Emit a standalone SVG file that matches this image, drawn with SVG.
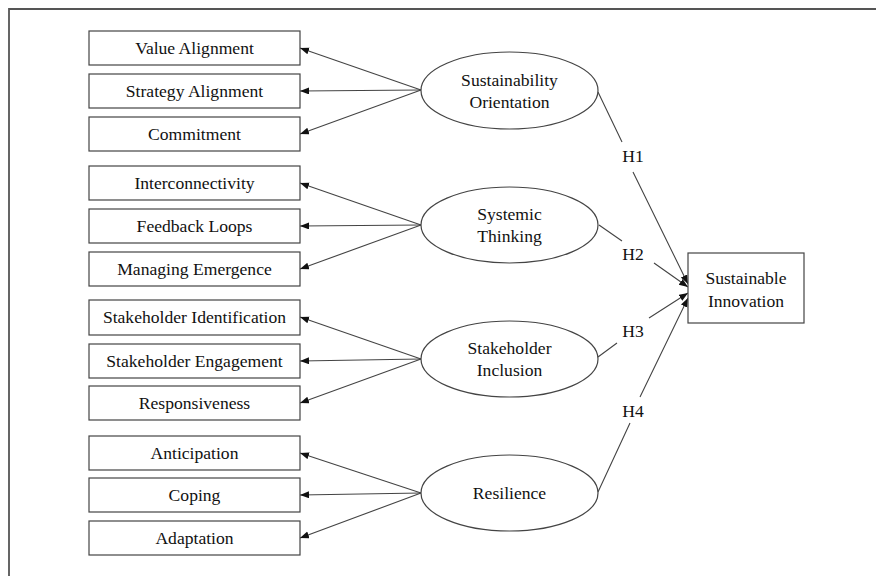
<svg xmlns="http://www.w3.org/2000/svg" width="876" height="576" viewBox="0 0 876 576">
<style>
text{font-family:"Liberation Serif","Times New Roman",serif;font-size:17.6px;fill:#111;text-anchor:middle;dominant-baseline:central}
.box{fill:#fff;stroke:#444;stroke-width:1.2}
.ell{fill:#fff;stroke:#444;stroke-width:1.2}
.con{fill:none;stroke:#444;stroke-width:1.1}
</style>
<defs>
<marker id="arr" markerWidth="10" markerHeight="8" refX="9" refY="3.5" orient="auto" markerUnits="userSpaceOnUse">
<path d="M0,0 L9,3.5 L0,7 Z" fill="#111"/>
</marker>
</defs>
<rect width="876" height="576" fill="#fff"/>
<path d="M9,590 V9 H890" fill="none" stroke="#555" stroke-width="1.8"/>

<g id="connectors">
<path class="con" marker-end="url(#arr)" d="M421,90 L300,48"/>
<path class="con" marker-end="url(#arr)" d="M421,90 L300,91"/>
<path class="con" marker-end="url(#arr)" d="M421,90 L300,134"/>
<path class="con" marker-end="url(#arr)" d="M421,225 L300,183"/>
<path class="con" marker-end="url(#arr)" d="M421,225 L300,226"/>
<path class="con" marker-end="url(#arr)" d="M421,225 L300,269"/>
<path class="con" marker-end="url(#arr)" d="M421,359 L300,317"/>
<path class="con" marker-end="url(#arr)" d="M421,359 L300,361"/>
<path class="con" marker-end="url(#arr)" d="M421,359 L300,403"/>
<path class="con" marker-end="url(#arr)" d="M421,493 L300,453"/>
<path class="con" marker-end="url(#arr)" d="M421,493 L300,495"/>
<path class="con" marker-end="url(#arr)" d="M421,493 L300,538"/>
<path class="con" marker-end="url(#arr)" d="M598,92 L622,142 M633,172 L688,284"/>
<path class="con" marker-end="url(#arr)" d="M599,225 L622,241 M654,263 L688,287"/>
<path class="con" marker-end="url(#arr)" d="M598,357 L617,343 M649,318 L688,293"/>
<path class="con" marker-end="url(#arr)" d="M598,492 L630,423 M640,397 L688,298"/>
<text x="633" y="156">H1</text>
<text x="633" y="254">H2</text>
<text x="633" y="331">H3</text>
<text x="633" y="411">H4</text>
</g>

<g id="value-alignment"><rect class="box" x="89" y="31" width="211" height="34"/><text x="194.5" y="48">Value Alignment</text></g>
<g id="strategy-alignment"><rect class="box" x="89" y="74" width="211" height="34"/><text x="194.5" y="91">Strategy Alignment</text></g>
<g id="commitment"><rect class="box" x="89" y="117" width="211" height="34"/><text x="194.5" y="134">Commitment</text></g>

<g id="interconnectivity"><rect class="box" x="89" y="166" width="211" height="34"/><text x="194.5" y="183">Interconnectivity</text></g>
<g id="feedback-loops"><rect class="box" x="89" y="209" width="211" height="34"/><text x="194.5" y="226">Feedback Loops</text></g>
<g id="managing-emergence"><rect class="box" x="89" y="252" width="211" height="34"/><text x="194.5" y="269">Managing Emergence</text></g>

<g id="stakeholder-identification"><rect class="box" x="89" y="300" width="211" height="35"/><text x="194.5" y="317">Stakeholder Identification</text></g>
<g id="stakeholder-engagement"><rect class="box" x="89" y="344" width="211" height="34"/><text x="194.5" y="361">Stakeholder Engagement</text></g>
<g id="responsiveness"><rect class="box" x="89" y="386" width="211" height="34"/><text x="194.5" y="403">Responsiveness</text></g>

<g id="anticipation"><rect class="box" x="89" y="436" width="211" height="34"/><text x="194.5" y="453">Anticipation</text></g>
<g id="coping"><rect class="box" x="89" y="478" width="211" height="34"/><text x="194.5" y="495">Coping</text></g>
<g id="adaptation"><rect class="box" x="89" y="521" width="211" height="34"/><text x="194.5" y="538">Adaptation</text></g>

<g id="sustainability-orientation"><ellipse class="ell" cx="509.5" cy="90.5" rx="88.5" ry="38.5"/><text x="509.5" y="80">Sustainability</text><text x="509.5" y="102">Orientation</text></g>
<g id="systemic-thinking"><ellipse class="ell" cx="509.5" cy="225" rx="88.5" ry="38"/><text x="509.5" y="214">Systemic</text><text x="509.5" y="236">Thinking</text></g>
<g id="stakeholder-inclusion"><ellipse class="ell" cx="509.5" cy="359" rx="88.5" ry="38"/><text x="509.5" y="348">Stakeholder</text><text x="509.5" y="370">Inclusion</text></g>
<g id="resilience"><ellipse class="ell" cx="509.5" cy="493" rx="88.5" ry="38"/><text x="509.5" y="493">Resilience</text></g>

<g id="sustainable-innovation"><rect class="box" x="688" y="253" width="116" height="70"/><text x="746" y="278">Sustainable</text><text x="746" y="301">Innovation</text></g>
</svg>
